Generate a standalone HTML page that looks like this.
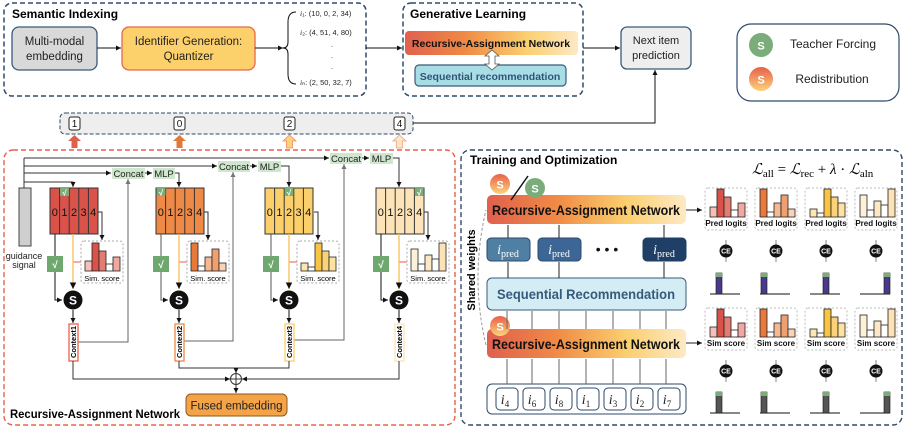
<!DOCTYPE html>
<html><head><meta charset="utf-8"><style>
html,body{margin:0;padding:0;background:#fff}
svg{display:block;font-family:"Liberation Sans",sans-serif}
</style></head><body>
<svg width="904" height="430" viewBox="0 0 904 430" xmlns="http://www.w3.org/2000/svg">
<defs>
<marker id="a" markerWidth="6" markerHeight="6" refX="5" refY="3" orient="auto"><path d="M0,0.5 L5,3 L0,5.5z" fill="#111"/></marker>
<marker id="ag" markerWidth="6" markerHeight="6" refX="5" refY="3" orient="auto"><path d="M0,0.5 L5,3 L0,5.5z" fill="#777"/></marker>
<linearGradient id="ran" x1="0" x2="1"><stop offset="0" stop-color="#e0604e"/><stop offset="0.35" stop-color="#f08a45"/><stop offset="0.7" stop-color="#fbcf6f"/><stop offset="1" stop-color="#fde9c4"/></linearGradient>
<linearGradient id="so" x1="0" y1="0" x2="0" y2="1"><stop offset="0" stop-color="#e8604a"/><stop offset="1" stop-color="#fbd27a"/></linearGradient>
<g id="b1"><rect x="4" y="22" width="7" height="10" fill="#f6c0b8" stroke="#222" stroke-width="0.8"/><rect x="11" y="4" width="7" height="28" fill="#d9534a" stroke="#222" stroke-width="0.8"/><rect x="18" y="12" width="7" height="20" fill="#e37c72" stroke="#222" stroke-width="0.8"/><rect x="25" y="25" width="7" height="7" fill="#fff" stroke="#222" stroke-width="0.8"/><rect x="32" y="18" width="7" height="14" fill="#f0a8a0" stroke="#222" stroke-width="0.8"/></g>
<g id="b2"><rect x="4" y="4" width="7" height="28" fill="#e8793a" stroke="#222" stroke-width="0.8"/><rect x="11" y="27" width="7" height="5" fill="#fff" stroke="#222" stroke-width="0.8"/><rect x="18" y="18" width="7" height="14" fill="#f6b890" stroke="#222" stroke-width="0.8"/><rect x="25" y="10" width="7" height="22" fill="#f0a070" stroke="#222" stroke-width="0.8"/><rect x="32" y="24" width="7" height="8" fill="#fad2b4" stroke="#222" stroke-width="0.8"/></g>
<g id="b3"><rect x="4" y="24" width="7" height="8" fill="#fde7b0" stroke="#222" stroke-width="0.8"/><rect x="11" y="28" width="7" height="4" fill="#fff" stroke="#222" stroke-width="0.8"/><rect x="18" y="4" width="7" height="28" fill="#f9c443" stroke="#222" stroke-width="0.8"/><rect x="25" y="12" width="7" height="20" fill="#fbd27a" stroke="#222" stroke-width="0.8"/><rect x="32" y="18" width="7" height="14" fill="#fde2a0" stroke="#222" stroke-width="0.8"/></g>
<g id="b4"><rect x="4" y="10" width="7" height="22" fill="#fdf0d8" stroke="#222" stroke-width="0.8"/><rect x="11" y="25" width="7" height="7" fill="#fff" stroke="#222" stroke-width="0.8"/><rect x="18" y="16" width="7" height="16" fill="#fde8c5" stroke="#222" stroke-width="0.8"/><rect x="25" y="20" width="7" height="12" fill="#fff" stroke="#222" stroke-width="0.8"/><rect x="32" y="4" width="7" height="28" fill="#fde2b4" stroke="#222" stroke-width="0.8"/></g>
</defs>

<!-- Semantic Indexing -->
<rect x="4" y="3" width="362" height="93" rx="8" fill="none" stroke="#2f4a6b" stroke-width="1.5" stroke-dasharray="5,3"/>
<text x="12" y="18" font-size="12" font-weight="bold">Semantic Indexing</text>
<rect x="12" y="27" width="85" height="43" rx="7" fill="#d9d9d9" stroke="#3b5a7a" stroke-width="1.3"/>
<text x="54.5" y="45" font-size="11.5" text-anchor="middle" fill="#222">Multi-modal</text>
<text x="54.5" y="60" font-size="11.5" text-anchor="middle" fill="#222">embedding</text>
<rect x="122" y="27" width="133" height="43" rx="7" fill="#fcd06b" stroke="#e8674f" stroke-width="1.3"/>
<text x="188.5" y="45" font-size="11.5" text-anchor="middle" fill="#222">Identifier Generation:</text>
<text x="188.5" y="60" font-size="11.5" text-anchor="middle" fill="#222">Quantizer</text>
<line x1="97" y1="48" x2="121" y2="48" stroke="#111" marker-end="url(#a)"/>
<line x1="255" y1="48" x2="283" y2="48" stroke="#111" marker-end="url(#a)"/>
<path d="M296,12 Q288,12 288,22 L288,42 Q288,48 283,48 Q288,48 288,54 L288,74 Q288,84 296,84" fill="none" stroke="#111" stroke-width="1"/>
<g font-size="7.5" fill="#222"><text x="300" y="16"><tspan font-family="Liberation Serif" font-style="italic">i</tspan>₁: (10, 0, 2, 34)</text>
<text x="300" y="35"><tspan font-family="Liberation Serif" font-style="italic">i</tspan>₂: (4, 51, 4, 80)</text>
<text x="331" y="47">.</text><text x="331" y="58">.</text><text x="331" y="69">.</text>
<text x="300" y="85"><tspan font-family="Liberation Serif" font-style="italic">i</tspan>ₙ: (2, 50, 32, 7)</text></g>
<line x1="366" y1="48" x2="402" y2="48" stroke="#111" marker-end="url(#a)"/>

<!-- Generative Learning -->
<rect x="403" y="3" width="180" height="93" rx="8" fill="none" stroke="#2f4a6b" stroke-width="1.5" stroke-dasharray="5,3"/>
<text x="410" y="18" font-size="12" font-weight="bold">Generative Learning</text>
<rect x="405" y="31" width="173" height="24" rx="4" fill="url(#ran)"/>
<text x="491" y="47" font-size="10.5" font-weight="bold" text-anchor="middle" fill="#111">Recursive-Assignment Network</text>
<rect x="415" y="65" width="151" height="21" rx="4" fill="#a9dde6" stroke="#3b5a7a" stroke-width="1.2"/>
<text x="490" y="80" font-size="10.5" font-weight="bold" text-anchor="middle" fill="#2f5478">Sequential recommendation</text>
<path d="M492,50 L499,56 L495,56 L495,64 L499,64 L492,70 L485,64 L489,64 L489,56 L485,56z" fill="#fff" stroke="#555" stroke-width="0.8"/>
<line x1="583" y1="48" x2="620" y2="48" stroke="#111" marker-end="url(#a)"/>
<rect x="621" y="27" width="70" height="42" rx="6" fill="#eeeeee" stroke="#3b5a7a" stroke-width="1.3"/>
<text x="656" y="44" font-size="11" text-anchor="middle" fill="#222">Next item</text>
<text x="656" y="59" font-size="11" text-anchor="middle" fill="#222">prediction</text>

<!-- Legend -->
<rect x="737" y="24" width="162" height="77" rx="14" fill="#fff" stroke="#2f4a6b" stroke-width="1.2"/>
<circle cx="761" cy="45" r="12" fill="#7aad7a"/><text x="761" y="49.5" font-size="11" font-weight="bold" fill="#fff" text-anchor="middle">S</text>
<circle cx="761" cy="79" r="12" fill="url(#so)"/><text x="761" y="83.5" font-size="11" font-weight="bold" fill="#fff" text-anchor="middle">S</text>
<text x="833" y="48" font-size="12" text-anchor="middle" fill="#222">Teacher Forcing</text>
<text x="832" y="83" font-size="12" text-anchor="middle" fill="#222">Redistribution</text>

<!-- ID bar -->
<rect x="60" y="113" width="353" height="21" rx="5" fill="#eeeeee" stroke="#2f4a6b" stroke-dasharray="4,2"/>
<g font-size="10" text-anchor="middle" fill="#111">
<rect x="69" y="117" width="11" height="13" rx="2" fill="#fff" stroke="#222"/><text x="74.5" y="127">1</text>
<rect x="174" y="117" width="11" height="13" rx="2" fill="#fff" stroke="#222"/><text x="179.5" y="127">0</text>
<rect x="284" y="117" width="11" height="13" rx="2" fill="#fff" stroke="#222"/><text x="289.5" y="127">2</text>
<rect x="394" y="117" width="11" height="13" rx="2" fill="#fff" stroke="#222"/><text x="399.5" y="127">4</text></g>
<path d="M413,123 L655,123 L655,70" fill="none" stroke="#111" marker-end="url(#a)"/>
<g stroke-width="0.8">
<path d="M74.5,135 L81,141 L77.5,141 L77.5,148 L71.5,148 L71.5,141 L68,141z" fill="#e0604a"/>
<path d="M179.5,135 L186,141 L182.5,141 L182.5,148 L176.5,148 L176.5,141 L173,141z" fill="#e07a3a"/>
<path d="M289.5,135 L296,141 L292.5,141 L292.5,148 L286.5,148 L286.5,141 L283,141z" fill="#fcd27a" stroke="#f08a60"/>
<path d="M399.5,135 L406,141 L402.5,141 L402.5,148 L396.5,148 L396.5,141 L393,141z" fill="#fde6c4" stroke="#f0a080"/></g>

<!-- Left panel -->
<rect x="4" y="150" width="451" height="275" rx="9" fill="none" stroke="#e8604a" stroke-width="1.4" stroke-dasharray="5,3"/>
<rect x="19" y="188" width="12" height="58" fill="#cfcfcf" stroke="#444"/>
<text x="24" y="259" font-size="9" text-anchor="middle" fill="#222">guidance</text>
<text x="24" y="268" font-size="9" text-anchor="middle" fill="#222">signal</text>
<g fill="none" stroke="#333" stroke-width="1">
<line x1="24" y1="188" x2="24" y2="158"/>
<path d="M24,182 L73,182 L73,187" marker-end="url(#a)"/>
<path d="M24,173 L111,173" marker-end="url(#a)"/>
<path d="M24,166 L217,166" marker-end="url(#a)"/>
<path d="M24,158 L329,158" marker-end="url(#a)"/>
<path d="M145,173 L152,173" marker-end="url(#a)"/>
<path d="M175,173 L179,173 L179,187" marker-end="url(#a)"/>
<path d="M250,166 L257,166" marker-end="url(#a)"/>
<path d="M281,166 L289,166 L289,187" marker-end="url(#a)"/>
<path d="M362,158 L369,158" marker-end="url(#a)"/>
<path d="M393,158 L399,158 L399,187" marker-end="url(#a)"/>
<path d="M78,342 L128,342 L128,179" stroke="#666" marker-end="url(#ag)"/>
<path d="M184,341 L233,341 L233,172" stroke="#666" marker-end="url(#ag)"/>
<path d="M293,340 L344,340 L344,164" stroke="#666" marker-end="url(#ag)"/>
</g>
<g font-size="9.5" text-anchor="middle" fill="#222">
<rect x="112" y="168" width="33" height="11" fill="#cfe6cf"/><text x="128.5" y="177">Concat</text>
<rect x="153" y="168" width="22" height="11" fill="#cfe6cf"/><text x="164" y="177">MLP</text>
<rect x="218" y="161" width="32" height="11" fill="#cfe6cf"/><text x="234" y="170">Concat</text>
<rect x="258" y="161" width="23" height="11" fill="#cfe6cf"/><text x="269.5" y="170">MLP</text>
<rect x="330" y="153" width="32" height="11" fill="#cfe6cf"/><text x="346" y="162">Concat</text>
<rect x="370" y="153" width="23" height="11" fill="#cfe6cf"/><text x="381.5" y="162">MLP</text>
</g>

<g transform="translate(50,0)">
<rect x="0" y="188" width="48" height="46" fill="#d9534a" stroke="#333"/>
<path d="M9.6,188V234M19.2,188V234M28.8,188V234M38.4,188V234" stroke="#333"/>
<rect x="10" y="188" width="9" height="8" fill="#7aad7a"/><text x="14.5" y="195.5" font-size="8" fill="#fff" text-anchor="middle" font-weight="bold">√</text>
</g>
<g transform="translate(156,0)">
<rect x="0" y="188" width="48" height="46" fill="#ee8a45" stroke="#333"/>
<path d="M9.6,188V234M19.2,188V234M28.8,188V234M38.4,188V234" stroke="#333"/>
<rect x="0.5" y="188" width="9" height="8" fill="#7aad7a"/><text x="5" y="195.5" font-size="8" fill="#fff" text-anchor="middle" font-weight="bold">√</text>
</g>
<g transform="translate(265,0)">
<rect x="0" y="188" width="48" height="46" fill="#fbcf6a" stroke="#333"/>
<path d="M9.6,188V234M19.2,188V234M28.8,188V234M38.4,188V234" stroke="#333"/>
<rect x="19.5" y="188" width="9" height="8" fill="#7aad7a"/><text x="24" y="195.5" font-size="8" fill="#fff" text-anchor="middle" font-weight="bold">√</text>
</g>
<g transform="translate(376,0)">
<rect x="0" y="188" width="48" height="46" fill="#fde3b8" stroke="#333"/>
<path d="M9.6,188V234M19.2,188V234M28.8,188V234M38.4,188V234" stroke="#333"/>
<rect x="38.7" y="188" width="9" height="8" fill="#7aad7a"/><text x="43.2" y="195.5" font-size="8" fill="#fff" text-anchor="middle" font-weight="bold">√</text>
</g>
<g font-size="11" fill="#111" text-anchor="middle">
<text x="54.8" y="216">0</text><text x="64.4" y="216">1</text><text x="74" y="216">2</text><text x="83.6" y="216">3</text><text x="93.2" y="216">4</text>
<text x="160.8" y="216">0</text><text x="170.4" y="216">1</text><text x="180" y="216">2</text><text x="189.6" y="216">3</text><text x="199.2" y="216">4</text>
<text x="269.8" y="216">0</text><text x="279.4" y="216">1</text><text x="289" y="216">2</text><text x="298.6" y="216">3</text><text x="308.2" y="216">4</text>
<text x="380.8" y="216">0</text><text x="390.4" y="216">1</text><text x="400" y="216">2</text><text x="409.6" y="216">3</text><text x="419.2" y="216">4</text>
</g>

<g>
<path d="M98,212 L102,212 L102,240" fill="none" stroke="#333" marker-end="url(#a)"/>
<rect x="81" y="241" width="42" height="42" rx="3" fill="#fff" stroke="#aaa" stroke-dasharray="2,2"/>
<use href="#b1" transform="translate(81,239)"/>
<text x="102" y="281" font-size="7.5" text-anchor="middle">Sim. score</text>
<line x1="81" y1="262" x2="73" y2="262" stroke="#f08070" stroke-width="1.3"/>
<path d="M73,234 L73,289" stroke="#fbbf50" stroke-width="1.3" fill="none" marker-end="url(#a)"/>
<path d="M55,234 L55,300 L62,300" stroke="#111" fill="none" marker-end="url(#a)"/>
<rect x="47" y="256" width="16" height="16" fill="#6fa86f"/><text x="55" y="268" font-size="10" fill="#fff" text-anchor="middle" font-weight="bold">√</text>
<circle cx="73" cy="300" r="9.5" fill="#111"/><text x="73" y="304.5" font-size="12" fill="#fff" font-weight="bold" text-anchor="middle">S</text>
<line x1="73" y1="310" x2="73" y2="323" stroke="#111" marker-end="url(#a)"/>
<rect x="69" y="324" width="9" height="37" fill="#fff" stroke="#e8604a" stroke-width="1.3"/>
<text transform="translate(76,342) rotate(-90)" font-size="7.5" font-weight="bold" text-anchor="middle">Context1</text>
</g>
<g transform="translate(106,0)">
<path d="M98,212 L102,212 L102,240" fill="none" stroke="#333" marker-end="url(#a)"/>
<rect x="81" y="241" width="42" height="42" rx="3" fill="#fff" stroke="#aaa" stroke-dasharray="2,2"/>
<use href="#b2" transform="translate(81,239)"/>
<text x="102" y="281" font-size="7.5" text-anchor="middle">Sim. score</text>
<line x1="81" y1="262" x2="73" y2="262" stroke="#f08070" stroke-width="1.3"/>
<path d="M73,234 L73,289" stroke="#fbbf50" stroke-width="1.3" fill="none" marker-end="url(#a)"/>
<path d="M55,234 L55,300 L62,300" stroke="#555" fill="none" marker-end="url(#a)"/>
<rect x="47" y="256" width="16" height="16" fill="#6fa86f"/><text x="55" y="268" font-size="10" fill="#fff" text-anchor="middle" font-weight="bold">√</text>
<circle cx="73" cy="300" r="9.5" fill="#111"/><text x="73" y="304.5" font-size="12" fill="#fff" font-weight="bold" text-anchor="middle">S</text>
<line x1="73" y1="310" x2="73" y2="323" stroke="#111" marker-end="url(#a)"/>
<rect x="69" y="324" width="9" height="37" fill="#fff" stroke="#ee8a45" stroke-width="1.3"/>
<text transform="translate(76,342) rotate(-90)" font-size="7.5" font-weight="bold" text-anchor="middle">Context2</text>
</g>
<g transform="translate(216,0)">
<path d="M98,212 L102,212 L102,240" fill="none" stroke="#333" marker-end="url(#a)"/>
<rect x="81" y="241" width="42" height="42" rx="3" fill="#fff" stroke="#aaa" stroke-dasharray="2,2"/>
<use href="#b3" transform="translate(81,239)"/>
<text x="102" y="281" font-size="7.5" text-anchor="middle">Sim. score</text>
<line x1="81" y1="262" x2="73" y2="262" stroke="#f08070" stroke-width="1.3"/>
<path d="M73,234 L73,289" stroke="#fbbf50" stroke-width="1.3" fill="none" marker-end="url(#a)"/>
<path d="M55,234 L55,300 L62,300" stroke="#555" fill="none" marker-end="url(#a)"/>
<rect x="47" y="256" width="16" height="16" fill="#6fa86f"/><text x="55" y="268" font-size="10" fill="#fff" text-anchor="middle" font-weight="bold">√</text>
<circle cx="73" cy="300" r="9.5" fill="#111"/><text x="73" y="304.5" font-size="12" fill="#fff" font-weight="bold" text-anchor="middle">S</text>
<line x1="73" y1="310" x2="73" y2="323" stroke="#111" marker-end="url(#a)"/>
<rect x="69" y="324" width="9" height="37" fill="#fff" stroke="#fbcf6a" stroke-width="1.3"/>
<text transform="translate(76,342) rotate(-90)" font-size="7.5" font-weight="bold" text-anchor="middle">Context3</text>
</g>
<g transform="translate(326,0)">
<path d="M98,212 L102,212 L102,240" fill="none" stroke="#333" marker-end="url(#a)"/>
<rect x="81" y="241" width="42" height="42" rx="3" fill="#fff" stroke="#aaa" stroke-dasharray="2,2"/>
<use href="#b4" transform="translate(81,239)"/>
<text x="102" y="281" font-size="7.5" text-anchor="middle">Sim. score</text>
<line x1="81" y1="262" x2="73" y2="262" stroke="#f08070" stroke-width="1.3"/>
<path d="M73,234 L73,289" stroke="#fbbf50" stroke-width="1.3" fill="none" marker-end="url(#a)"/>
<path d="M55,234 L55,300 L62,300" stroke="#111" fill="none" marker-end="url(#a)"/>
<rect x="47" y="256" width="16" height="16" fill="#6fa86f"/><text x="55" y="268" font-size="10" fill="#fff" text-anchor="middle" font-weight="bold">√</text>
<circle cx="73" cy="300" r="9.5" fill="#111"/><text x="73" y="304.5" font-size="12" fill="#fff" font-weight="bold" text-anchor="middle">S</text>
<line x1="73" y1="310" x2="73" y2="323" stroke="#111" marker-end="url(#a)"/>
<rect x="69" y="324" width="9" height="37" fill="#fff" stroke="#fde3b8" stroke-width="1.3"/>
<text transform="translate(76,342) rotate(-90)" font-size="7.5" font-weight="bold" text-anchor="middle">Context4</text>
</g>
<g fill="none" stroke="#333">
<path d="M73,361 L73,379 L230,379" marker-end="url(#a)"/>
<path d="M399,361 L399,379 L242,379" marker-end="url(#a)"/>
<path d="M179,361 L179,368 L289,368 L289,361"/>
<path d="M236,368 L236,373" marker-end="url(#a)"/>
<circle cx="236" cy="379" r="5.5" fill="#fff"/>
<path d="M230.5,379 H241.5 M236,373.5 V384.5"/>
<path d="M236,385 L236,393" marker-end="url(#a)"/>
</g>
<rect x="186" y="394" width="101" height="22" rx="5" fill="#f4a347" stroke="#8a5a20" stroke-width="1"/>
<text x="236.5" y="409.5" font-size="11.5" text-anchor="middle" fill="#222">Fused embedding</text>
<text x="10" y="418" font-size="11.5" font-weight="bold" textLength="170" lengthAdjust="spacingAndGlyphs">Recursive-Assignment Network</text>

<!-- Right panel -->
<rect x="461" y="150" width="441" height="275" rx="9" fill="none" stroke="#2f4a6b" stroke-width="1.4" stroke-dasharray="5,3"/>
<text x="470" y="164" font-size="12" font-weight="bold">Training and Optimization</text>
<text x="752" y="174" font-size="15" font-family="Liberation Serif" font-style="italic">ℒ<tspan font-style="normal" font-size="11" dy="3">all</tspan><tspan dy="-3" font-style="normal"> = </tspan>ℒ<tspan font-style="normal" font-size="11" dy="3">rec</tspan><tspan dy="-3" font-style="normal"> + </tspan>λ<tspan font-style="normal"> · </tspan>ℒ<tspan font-style="normal" font-size="11" dy="3">aln</tspan></text>

<rect x="487" y="195" width="199" height="29" rx="5" fill="url(#ran)"/>
<text x="586" y="215" font-size="14" font-weight="bold" text-anchor="middle" fill="#111" textLength="188" lengthAdjust="spacingAndGlyphs">Recursive-Assignment Network</text>
<circle cx="500" cy="184" r="10" fill="url(#so)"/><text x="500" y="188.5" font-size="11" font-weight="bold" fill="#fff" text-anchor="middle">S</text>
<line x1="528" y1="176" x2="511" y2="200" stroke="#111" stroke-width="1.5"/>
<circle cx="535" cy="188" r="10" fill="#7aad7a"/><text x="535" y="192.5" font-size="11" font-weight="bold" fill="#fff" text-anchor="middle">S</text>

<g font-family="Liberation Serif" fill="#fff" text-anchor="middle">
<rect x="487" y="238" width="43" height="23" rx="4" fill="#4f7fa3" stroke="#2f4a6b"/><text x="508" y="254" font-size="14"><tspan font-style="italic">i</tspan><tspan font-size="10" dy="3">pred</tspan></text>
<rect x="538" y="238" width="43" height="23" rx="4" fill="#3c6695" stroke="#2f4a6b"/><text x="559" y="254" font-size="14"><tspan font-style="italic">i</tspan><tspan font-size="10" dy="3">pred</tspan></text>
<rect x="643" y="238" width="43" height="23" rx="4" fill="#1f3f66" stroke="#1f3f66"/><text x="664" y="254" font-size="14"><tspan font-style="italic">i</tspan><tspan font-size="10" dy="3">pred</tspan></text>
</g>
<text x="607" y="254" font-size="14" text-anchor="middle" fill="#111">• • •</text>
<rect x="487" y="278" width="199" height="32" rx="5" fill="#d4edf4" stroke="#3b5a7a"/>
<text x="586" y="299" font-size="14" font-weight="bold" text-anchor="middle" fill="#355a7b" textLength="178" lengthAdjust="spacingAndGlyphs">Sequential Recommendation</text>
<rect x="487" y="329" width="199" height="29" rx="5" fill="url(#ran)"/>
<text x="586" y="349" font-size="14" font-weight="bold" text-anchor="middle" fill="#111" textLength="188" lengthAdjust="spacingAndGlyphs">Recursive-Assignment Network</text>
<circle cx="500" cy="326" r="10" fill="url(#so)"/><text x="500" y="330.5" font-size="11" font-weight="bold" fill="#fff" text-anchor="middle">S</text>
<rect x="487" y="384" width="199" height="30" rx="5" fill="#fff" stroke="#2f4a6b"/>
<g font-family="Liberation Serif" font-style="italic" font-size="14" text-anchor="middle" fill="#222">
<rect x="496" y="388" width="22" height="22" rx="4" fill="#fff" stroke="#2f4a6b"/><text x="505" y="404">i<tspan font-size="9" font-style="normal" dy="3">4</tspan></text>
<rect x="523" y="388" width="22" height="22" rx="4" fill="#fff" stroke="#2f4a6b"/><text x="532" y="404">i<tspan font-size="9" font-style="normal" dy="3">6</tspan></text>
<rect x="550" y="388" width="22" height="22" rx="4" fill="#fff" stroke="#2f4a6b"/><text x="559" y="404">i<tspan font-size="9" font-style="normal" dy="3">8</tspan></text>
<rect x="577" y="388" width="22" height="22" rx="4" fill="#fff" stroke="#2f4a6b"/><text x="586" y="404">i<tspan font-size="9" font-style="normal" dy="3">1</tspan></text>
<rect x="604" y="388" width="22" height="22" rx="4" fill="#fff" stroke="#2f4a6b"/><text x="613" y="404">i<tspan font-size="9" font-style="normal" dy="3">3</tspan></text>
<rect x="631" y="388" width="22" height="22" rx="4" fill="#fff" stroke="#2f4a6b"/><text x="640" y="404">i<tspan font-size="9" font-style="normal" dy="3">2</tspan></text>
<rect x="658" y="388" width="22" height="22" rx="4" fill="#fff" stroke="#2f4a6b"/><text x="667" y="404">i<tspan font-size="9" font-style="normal" dy="3">7</tspan></text>
</g>
<g stroke="#222" fill="none">
<path d="M507,384V359M532,384V359M559,384V359M586,384V359M613,384V359M640,384V359M666,384V359" stroke="#666"/>
<path d="M507,329V311M532,329V311M559,329V311M586,329V311M613,329V311M640,329V311M666,329V311" stroke="#666"/>
<path d="M508,278V262M559,278V262M664,278V262"/>
<path d="M508,238V225M559,238V225M664,238V225"/>
<path d="M686,210H702" marker-end="url(#a)"/>
<path d="M686,343H702" marker-end="url(#a)"/>
<path d="M486,345 Q470,278 486,210" stroke="#999" stroke-dasharray="3,2"/>
</g>
<text transform="translate(475,270) rotate(-90)" font-size="11" font-weight="bold" text-anchor="middle">Shared weights</text>

<g font-size="8" text-anchor="middle" fill="#111">
<rect x="705" y="188" width="42" height="42" rx="3" fill="#fff" stroke="#bbb" stroke-dasharray="2,2"/><use href="#b1" transform="translate(706,185)"/><text x="726" y="226" font-weight="bold">Pred logits</text>
<rect x="755" y="188" width="42" height="42" rx="3" fill="#fff" stroke="#bbb" stroke-dasharray="2,2"/><use href="#b2" transform="translate(756,185)"/><text x="776" y="226" font-weight="bold">Pred logits</text>
<rect x="805" y="188" width="42" height="42" rx="3" fill="#fff" stroke="#bbb" stroke-dasharray="2,2"/><use href="#b3" transform="translate(806,185)"/><text x="826" y="226" font-weight="bold">Pred logits</text>
<rect x="855" y="188" width="42" height="42" rx="3" fill="#fff" stroke="#bbb" stroke-dasharray="2,2"/><use href="#b4" transform="translate(856,185)"/><text x="876" y="226" font-weight="bold">Pred logits</text>
<rect x="705" y="308" width="42" height="42" rx="3" fill="#fff" stroke="#bbb" stroke-dasharray="2,2"/><use href="#b1" transform="translate(706,305)"/><text x="726" y="346" font-weight="bold">Sim score</text>
<rect x="755" y="308" width="42" height="42" rx="3" fill="#fff" stroke="#bbb" stroke-dasharray="2,2"/><use href="#b2" transform="translate(756,305)"/><text x="776" y="346" font-weight="bold">Sim score</text>
<rect x="805" y="308" width="42" height="42" rx="3" fill="#fff" stroke="#bbb" stroke-dasharray="2,2"/><use href="#b3" transform="translate(806,305)"/><text x="826" y="346" font-weight="bold">Sim score</text>
<rect x="855" y="308" width="42" height="42" rx="3" fill="#fff" stroke="#bbb" stroke-dasharray="2,2"/><use href="#b4" transform="translate(856,305)"/><text x="876" y="346" font-weight="bold">Sim score</text>
</g>
<g stroke="#888" fill="none">
<path d="M726,240V262M776,240V262M826,240V262M876,240V262"/>
<path d="M726,360V382M776,360V382M826,360V382M876,360V382"/>
</g>
<g font-size="7" font-weight="bold" fill="#fff" text-anchor="middle">
<circle cx="726" cy="251" r="6.5" fill="#111"/><text x="726" y="253.5">CE</text>
<circle cx="776" cy="251" r="6.5" fill="#111"/><text x="776" y="253.5">CE</text>
<circle cx="826" cy="251" r="6.5" fill="#111"/><text x="826" y="253.5">CE</text>
<circle cx="876" cy="251" r="6.5" fill="#111"/><text x="876" y="253.5">CE</text>
<circle cx="726" cy="371" r="6.5" fill="#111"/><text x="726" y="373.5">CE</text>
<circle cx="776" cy="371" r="6.5" fill="#111"/><text x="776" y="373.5">CE</text>
<circle cx="826" cy="371" r="6.5" fill="#111"/><text x="826" y="373.5">CE</text>
<circle cx="876" cy="371" r="6.5" fill="#111"/><text x="876" y="373.5">CE</text>
</g>
<g stroke="#111">
<path d="M710,294H740M760,294H790M810,294H840M860,294H890"/>
<path d="M710,413H740M760,413H790M810,413H840M860,413H890"/>
</g>
<g fill="#4b3a8c" stroke="#111" stroke-width="0.6">
<rect x="716" y="273" width="6" height="21"/><rect x="761" y="273" width="6" height="21"/><rect x="823" y="273" width="6" height="21"/><rect x="884" y="273" width="6" height="21"/>
</g>
<g fill="#555" stroke="#111" stroke-width="0.6">
<rect x="716" y="392" width="6" height="21"/><rect x="761" y="392" width="6" height="21"/><rect x="823" y="392" width="6" height="21"/><rect x="884" y="392" width="6" height="21"/>
</g>
<g fill="#7aad7a">
<rect x="716" y="273" width="6" height="4"/><rect x="761" y="273" width="6" height="4"/><rect x="823" y="273" width="6" height="4"/><rect x="884" y="273" width="6" height="4"/>
<rect x="716" y="392" width="6" height="4"/><rect x="761" y="392" width="6" height="4"/><rect x="823" y="392" width="6" height="4"/><rect x="884" y="392" width="6" height="4"/>
</g>
</svg>
</body></html>
